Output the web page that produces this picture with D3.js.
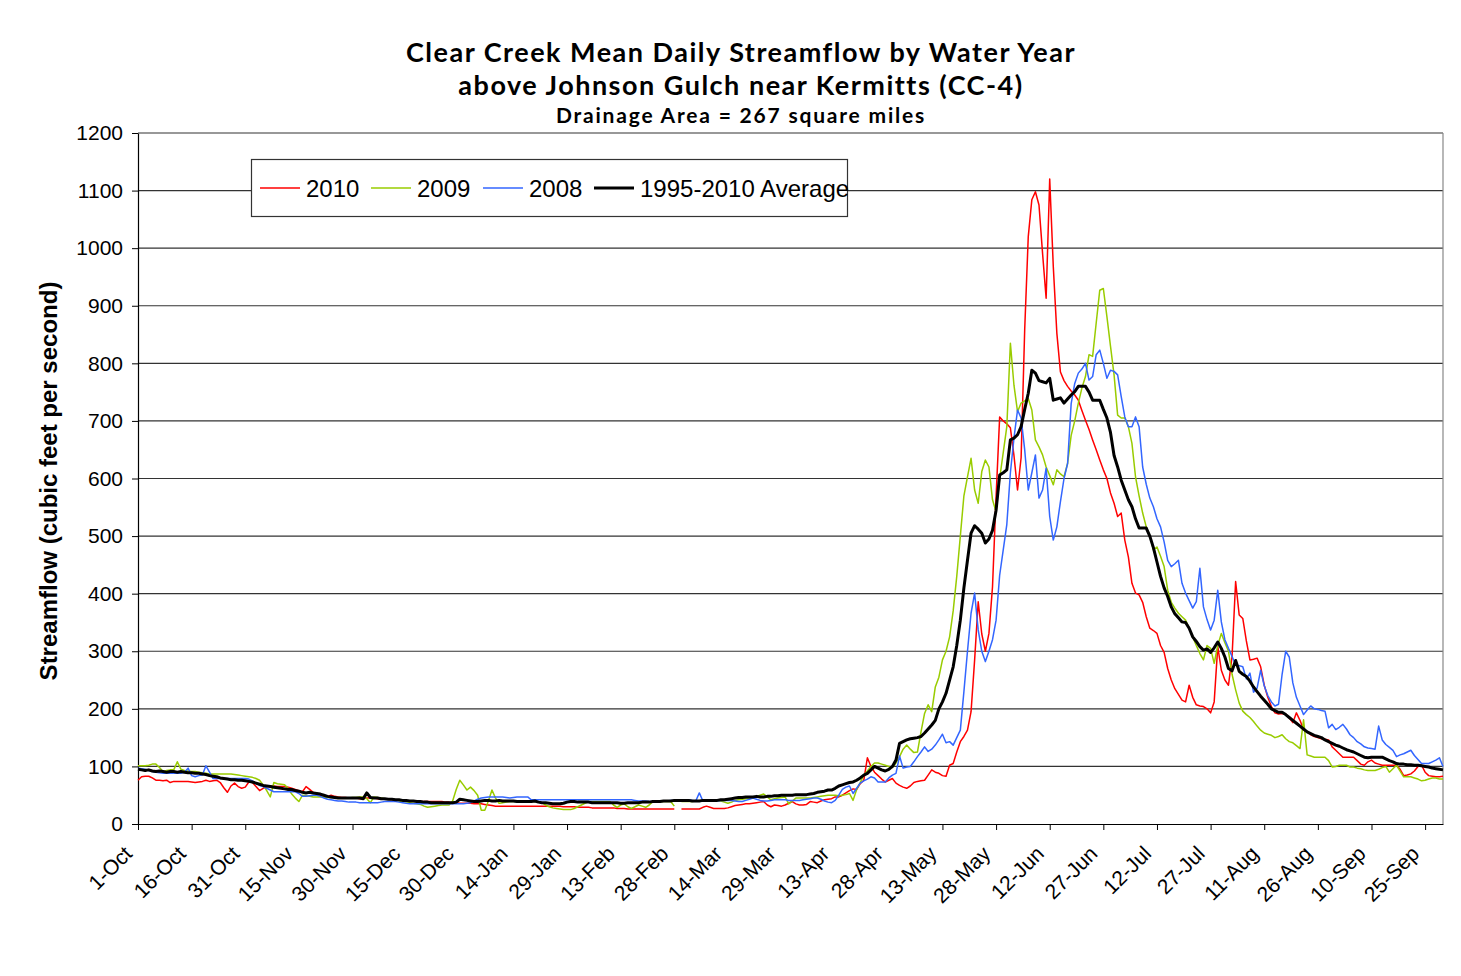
<!DOCTYPE html>
<html>
<head>
<meta charset="utf-8">
<script src="https://cdn.jsdelivr.net/npm/d3@7"></script>
<style>
  body { margin: 0; background: #ffffff; }
  svg { display: block; }
</style>
</head>
<body>
<svg id="chart" width="1461" height="976"></svg>
<script>
// Water-year day index 0 = 1-Oct ... 365 = 30-Sep (leap-year calendar, 29-Feb = index 151)
const tickLabels = ["1-Oct","16-Oct","31-Oct","15-Nov","30-Nov","15-Dec","30-Dec","14-Jan","29-Jan",
  "13-Feb","28-Feb","14-Mar","29-Mar","13-Apr","28-Apr","13-May","28-May","12-Jun","27-Jun",
  "12-Jul","27-Jul","11-Aug","26-Aug","10-Sep","25-Sep"];
const yTicks = [0,100,200,300,400,500,600,700,800,900,1000,1100,1200];

const seriesNames = ["2010", "2009", "2008", "1995-2010 Average"];

// Mean daily streamflow, cfs
const flow2010 = [
  76,82,83,83,80,76,76,75,76,72,
  74,74,74,74,74,73,72,73,74,76,
  74,75,76,72,63,55,66,71,65,62,
  64,73,72,65,58,62,65,66,66,65,
  65,65,64,62,60,58,56,65,60,55,
  52,50,49,48,50,48,47,46,46,45,
  45,45,44,44,45,45,45,44,43,43,
  43,42,42,42,41,41,40,40,39,39,
  39,39,39,39,39,39,38,38,37,37,
  36,36,36,36,35,35,35,34,33,32,
  31,31,31,31,31,31,31,31,31,31,
  31,31,31,31,31,31,31,31,31,30,
  30,30,30,29,29,29,29,28,28,28,
  28,28,28,28,27,27,27,26,26,26,
  26,26,26,26,26,26,26,26,26,26,
  26,null,26,26,26,26,26,26,29,31,
  29,27,27,27,27,28,30,32,33,34,
  35,35,36,37,38,39,33,30,33,32,
  31,33,36,39,35,33,33,34,39,38,
  37,40,42,43,44,47,47,50,54,58,
  61,60,70,76,115,100,90,84,78,73,
  76,79,71,67,64,62,66,72,74,75,
  76,85,94,90,88,84,83,102,105,125,
  143,152,163,195,285,386,330,300,331,412,
  568,707,700,695,688,640,580,636,858,1020,
  1084,1098,1075,991,913,1120,968,852,785,770,
  760,752,745,736,718,701,685,667,650,632,
  615,600,575,557,534,540,493,464,418,401,
  398,385,360,340,336,331,310,298,270,250,
  235,225,215,212,241,220,207,205,204,200,
  193,212,308,267,250,241,291,421,363,357,
  318,285,286,288,273,241,220,204,193,191,
  192,191,184,176,193,180,164,160,155,152,
  150,148,147,146,134,128,122,116,116,116,
  116,110,104,102,108,111,106,104,102,102,
  102,102,102,95,84,85,87,92,100,102,
  90,84,83,82,82,83
];

const flow2009 = [
  101,101,101,102,104,104,98,91,93,94,
  94,108,95,93,92,91,91,90,89,88,
  87,87,87,87,87,87,87,86,85,84,
  83,82,81,79,76,68,58,47,72,70,
  69,68,62,52,45,39,50,49,48,47,
  47,47,47,46,46,46,46,45,45,45,
  46,46,47,47,44,37,47,46,45,44,
  43,43,42,40,39,38,37,36,35,34,
  31,29,30,31,32,33,33,33,40,60,
  76,68,59,64,58,50,24,24,40,59,
  45,36,37,38,39,39,39,39,39,39,
  39,39,38,37,33,30,28,27,26,25,
  25,25,27,30,33,36,39,39,39,39,
  39,39,39,33,29,33,35,30,27,30,
  33,31,29,33,39,39,39,39,39,39,
  31,null,39,39,39,39,40,40,40,40,
  40,41,41,40,38,36,38,41,42,43,
  44,45,45,48,50,52,47,42,44,45,
  46,47,35,40,45,45,45,45,45,46,
  47,48,49,50,50,50,49,50,51,53,
  41,60,72,85,92,100,106,106,104,102,
  100,98,106,117,130,137,130,124,125,160,
  192,207,195,238,255,285,300,325,370,430,
  500,570,603,635,580,557,612,632,620,563,
  542,600,645,690,835,762,716,731,735,739,
  719,667,655,641,620,605,589,615,608,603,
  626,675,700,731,757,777,815,812,870,927,
  930,881,830,780,710,705,705,690,661,603,
  570,540,516,500,476,481,465,447,406,385,
  375,366,360,354,340,325,310,296,285,310,
  305,279,310,331,315,300,260,233,210,196,
  190,185,178,170,163,158,156,154,150,152,
  155,148,143,141,136,131,181,120,118,116,
  116,116,116,110,99,100,102,102,102,99,
  99,97,96,94,93,93,93,95,98,100,
  90,96,102,92,82,82,82,80,78,75,
  76,78,80,80,78,78
];

const flow2008 = [
  97,96,95,93,91,90,89,88,88,88,
  88,88,88,90,97,84,82,84,85,101,
  90,79,79,79,79,79,79,79,79,79,
  79,78,75,70,67,65,62,59,56,56,
  56,56,56,56,56,53,48,48,49,50,
  50,48,45,43,42,41,40,40,39,38,
  38,38,37,37,37,37,37,37,38,39,
  39,39,39,38,37,36,35,35,35,35,
  35,35,35,35,35,35,35,35,35,35,
  35,35,36,37,40,43,45,46,47,47,
  47,47,47,46,45,46,47,47,47,47,
  42,42,42,42,42,42,42,42,42,42,
  42,42,42,42,42,42,42,42,42,42,
  42,42,42,42,42,42,42,42,42,41,
  40,40,40,39,39,39,40,40,40,41,
  41,42,42,42,42,41,40,54,40,40,
  40,40,40,41,41,41,41,40,39,39,
  41,43,45,43,41,40,40,41,42,42,
  42,42,41,41,41,41,42,43,44,45,
  45,43,40,38,37,41,50,60,64,66,
  53,62,71,75,78,82,80,73,73,73,
  80,85,88,118,97,99,100,108,117,125,
  134,126,130,137,146,156,141,143,137,150,
  163,230,300,366,401,337,300,282,300,320,
  354,432,476,520,610,670,719,705,650,580,
  610,641,566,580,618,534,493,516,560,600,
  626,730,765,783,790,800,771,777,815,823,
  800,774,788,786,780,742,707,690,690,707,
  690,620,590,566,551,530,516,490,458,447,
  452,458,418,401,388,375,386,444,377,355,
  337,354,406,351,320,305,291,276,275,273,
  252,262,229,236,267,240,223,212,205,208,
  260,300,290,245,220,205,190,198,205,200,
  199,197,196,167,173,164,168,173,165,155,
  150,143,139,134,132,131,130,170,146,138,
  133,128,117,120,122,125,128,119,112,105,
  105,105,108,111,115,100
];

const flowAvg = [
  95,94,93,94,92,91,92,91,90,91,
  91,90,91,90,89,89,88,88,87,86,
  84,83,82,80,79,78,77,77,76,76,
  75,74,73,71,69,67,66,65,64,63,
  62,61,60,60,58,57,55,54,55,54,
  53,52,50,48,47,46,45,45,45,45,
  45,45,45,44,54,46,45,45,44,44,
  43,43,42,42,41,41,40,40,39,39,
  38,38,37,37,37,37,37,37,37,38,
  43,42,41,40,39,39,40,41,41,40,
  40,41,40,40,40,40,39,39,39,39,
  39,40,38,37,37,36,35,35,35,36,
  38,39,39,38,38,38,38,37,37,37,
  37,37,37,37,37,36,36,37,37,37,
  37,38,38,38,39,39,39,40,40,40,
  41,41,41,41,41,40,40,40,41,41,
  41,41,41,42,42,43,44,45,46,46,
  47,47,47,48,47,47,48,48,49,49,
  50,50,50,50,51,51,51,51,52,53,
  55,56,57,59,59,62,66,68,70,72,
  73,76,80,85,88,94,100,97,94,92,
  95,100,111,140,143,146,148,149,150,152,
  158,165,172,180,200,212,227,250,273,310,
  354,410,458,505,518,512,505,488,495,510,
  545,606,610,615,667,670,676,690,720,748,
  788,783,770,768,766,774,736,738,740,731,
  738,745,751,760,760,760,750,736,736,736,
  720,705,680,640,620,597,580,563,551,530,
  514,514,514,500,480,455,430,410,395,377,
  365,358,351,350,340,325,317,308,302,304,
  298,306,316,305,290,270,266,284,265,260,
  256,248,238,230,222,215,208,200,197,194,
  194,190,185,180,175,170,165,160,157,154,
  152,150,146,143,140,137,135,132,129,127,
  125,122,119,116,115,116,116,116,116,113,
  110,108,105,104,104,103,103,102,102,101,
  100,99,97,96,95,94
];

const series = [
  { name: seriesNames[0], values: flow2010, color: "#ff0000", width: 1.5 },
  { name: seriesNames[1], values: flow2009, color: "#99cc00", width: 1.5 },
  { name: seriesNames[2], values: flow2008, color: "#3366ff", width: 1.5 },
  { name: seriesNames[3], values: flowAvg,  color: "#000000", width: 3 }
];

const svg = d3.select("#chart");
const plot = { left: 138, right: 1443, top: 133, bottom: 824 };

const x = d3.scaleLinear().domain([0, 365]).range([plot.left, plot.right]);
const y = d3.scaleLinear().domain([0, 1200]).range([plot.bottom, plot.top]);

// Titles
const titleFont = "Lato, 'Open Sans', sans-serif";
svg.append("text").attr("x", 741).attr("y", 62).attr("text-anchor", "middle")
  .attr("font-family", titleFont).attr("font-weight", 700).attr("font-size", 27)
  .attr("letter-spacing", 1.5).text("Clear Creek Mean Daily Streamflow by Water Year");
svg.append("text").attr("x", 741).attr("y", 95).attr("text-anchor", "middle")
  .attr("font-family", titleFont).attr("font-weight", 700).attr("font-size", 27)
  .attr("letter-spacing", 1.5).text("above Johnson Gulch near Kermitts (CC-4)");
svg.append("text").attr("x", 741).attr("y", 123).attr("text-anchor", "middle")
  .attr("font-family", titleFont).attr("font-weight", 700).attr("font-size", 21)
  .attr("letter-spacing", 1.8).text("Drainage Area = 267 square miles");

// Horizontal gridlines
svg.append("g").selectAll("line")
  .data(yTicks.filter(v => v > 0))
  .join("line")
  .attr("x1", plot.left).attr("x2", plot.right)
  .attr("y1", d => y(d)).attr("y2", d => y(d))
  .attr("stroke", "#333333").attr("stroke-width", 1.2);

// Right edge of plot area
svg.append("line")
  .attr("x1", plot.right).attr("x2", plot.right)
  .attr("y1", plot.top).attr("y2", plot.bottom)
  .attr("stroke", "#888888").attr("stroke-width", 1.2);

// Axes
const tickFont = "'Liberation Sans', Arial, sans-serif";
const yAxis = svg.append("g")
  .attr("transform", `translate(${plot.left},0)`)
  .call(d3.axisLeft(y).tickValues(yTicks).tickFormat(d3.format("d"))
    .tickSize(6).tickPadding(9).tickSizeOuter(0));
yAxis.select(".domain").attr("stroke", "#000").attr("stroke-width", 1.2);
yAxis.selectAll(".tick line").attr("stroke", "#000");
yAxis.selectAll("text").attr("font-family", tickFont).attr("font-size", 21).attr("fill", "#000");

const xTickIdx = tickLabels.map((_, i) => i * 15);
const xAxis = svg.append("g")
  .attr("transform", `translate(0,${plot.bottom})`)
  .call(d3.axisBottom(x).tickValues(xTickIdx).tickFormat((d, i) => tickLabels[i])
    .tickSize(6).tickSizeOuter(0));
xAxis.select(".domain").attr("stroke", "#000").attr("stroke-width", 1.2);
xAxis.selectAll(".tick line").attr("stroke", "#000");
xAxis.selectAll("text")
  .attr("font-family", tickFont).attr("font-size", 21).attr("fill", "#000")
  .attr("text-anchor", "end")
  .attr("x", 0).attr("y", 0).attr("dy", 0)
  .attr("transform", "translate(-5,31) rotate(-45)");

// Y axis title
svg.append("text")
  .attr("transform", "translate(57,481) rotate(-90)")
  .attr("text-anchor", "middle")
  .attr("font-family", tickFont).attr("font-weight", 700).attr("font-size", 24)
  .text("Streamflow (cubic feet per second)");

// Series lines (29-Feb is a gap in non-leap years)
const line = d3.line()
  .defined(d => d != null)
  .x((d, i) => x(i))
  .y(d => y(d));

svg.append("g").selectAll("path")
  .data(series)
  .join("path")
  .attr("d", s => line(s.values))
  .attr("fill", "none")
  .attr("stroke", s => s.color)
  .attr("stroke-width", s => s.width)
  .attr("stroke-linejoin", "round");

// Legend
const legend = svg.append("g");
legend.append("rect")
  .attr("x", 251.5).attr("y", 159.5).attr("width", 596).attr("height", 57)
  .attr("fill", "#ffffff").attr("stroke", "#333333").attr("stroke-width", 1.2);
const legendX = [260, 371, 483, 594];
series.forEach((s, i) => {
  legend.append("line")
    .attr("x1", legendX[i]).attr("x2", legendX[i] + 40)
    .attr("y1", 188).attr("y2", 188)
    .attr("stroke", s.color).attr("stroke-width", s.width);
  legend.append("text")
    .attr("x", legendX[i] + 46).attr("y", 197)
    .attr("font-family", tickFont).attr("font-size", 24).attr("fill", "#000")
    .text(s.name);
});
</script>
</body>
</html>
